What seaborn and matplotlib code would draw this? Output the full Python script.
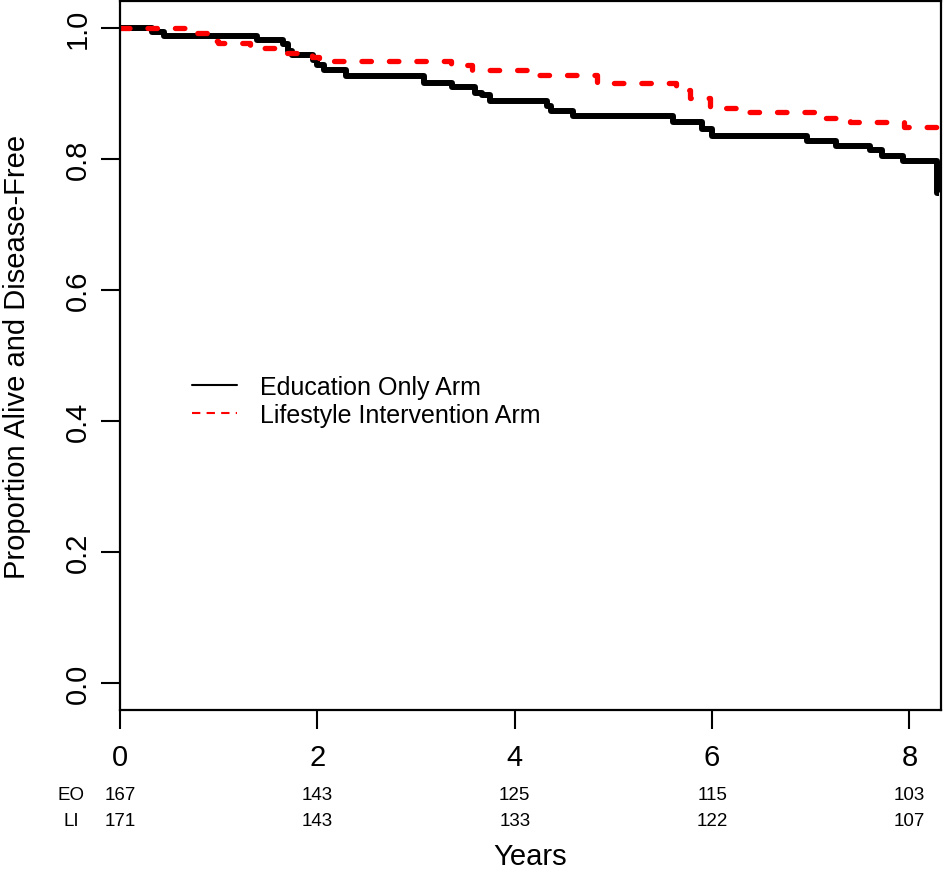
import numpy as np
import pandas as pd
import matplotlib
matplotlib.use("Agg")
import matplotlib.pyplot as plt
import matplotlib.transforms as mtransforms
from matplotlib.lines import Line2D
import seaborn as sns

# step times (years) and survival after each step
eo_time = [0.0, 0.32, 0.45, 1.39, 1.65, 1.70, 1.74, 1.96, 2.00, 2.07, 2.29, 3.08, 3.36,
           3.60, 3.67, 3.75, 4.33, 4.37, 4.59, 5.60, 5.90, 6.00, 6.96, 7.26, 7.60,
           7.72, 7.93, 8.28, 8.30]
eo_surv = [1.000, 0.994, 0.988, 0.982, 0.976, 0.965, 0.959, 0.951, 0.944, 0.936, 0.927,
           0.916, 0.909, 0.901, 0.897, 0.889, 0.880, 0.873, 0.866, 0.857, 0.845, 0.835,
           0.828, 0.820, 0.813, 0.805, 0.797, 0.748, 0.748]

li_time = [0.0, 0.68, 0.90, 0.99, 1.32, 1.60, 1.95, 2.02, 3.35, 3.57, 4.15, 4.83,
           5.63, 5.78, 5.98, 6.28, 7.11, 7.40, 7.95, 8.35]
li_surv = [1.000, 0.992, 0.980, 0.977, 0.969, 0.962, 0.956, 0.950, 0.944, 0.936, 0.928,
           0.916, 0.905, 0.893, 0.878, 0.871, 0.863, 0.856, 0.849, 0.849]

risk_times = [0, 2, 4, 6, 8]
risk_eo = [167, 143, 125, 115, 103]
risk_li = [171, 143, 133, 122, 107]

sns.set_style("white")
plt.rcParams['font.family'] = ['Liberation Sans', 'DejaVu Sans']
plt.rcParams['text.color'] = 'black'
plt.rcParams['axes.labelcolor'] = 'black'
plt.rcParams['xtick.color'] = 'black'
plt.rcParams['ytick.color'] = 'black'

fig = plt.figure(figsize=(9.44, 8.70), dpi=100)
ax = fig.add_axes([120 / 944, 1 - 711 / 870, 821 / 944, 709 / 870])

eo = pd.DataFrame({"time": eo_time, "surv": eo_surv})
li = pd.DataFrame({"time": li_time, "surv": li_surv})

sns.lineplot(data=eo, x="time", y="surv", ax=ax, color="black", lw=4.3,
             drawstyle="steps-post", estimator=None, solid_capstyle="butt")
sns.lineplot(data=li, x="time", y="surv", ax=ax, color="red", lw=3.8,
             drawstyle="steps-post", estimator=None,
             linestyle=(0, (1.8, 3.4)), dash_capstyle="round")

ax.set_xlim(0, 8.32)
ax.set_ylim(-0.041, 1.041)
ax.set_xticks([0, 2, 4, 6, 8])
ax.set_yticks([0.0, 0.2, 0.4, 0.6, 0.8, 1.0])
ax.set_yticklabels(["0.0", "0.2", "0.4", "0.6", "0.8", "1.0"], rotation=90, va="center")
ax.tick_params(axis="x", bottom=True, length=14, width=1.5, labelsize=21, pad=10,
               colors="black")
ax.tick_params(axis="y", left=True, length=14, width=1.5, labelsize=21, pad=6,
               colors="black")
ax.set_xlabel("")
ax.set_ylabel("Proportion Alive and Disease-Free", fontsize=21, labelpad=24)
for sp in ax.spines.values():
    sp.set_color("black")
    sp.set_linewidth(1.6)

handles = [Line2D([], [], color="black", lw=1.5),
           Line2D([], [], color="red", lw=1.5, linestyle=(0, (4, 3)))]
ax.legend(handles, ["Education Only Arm", "Lifestyle Intervention Arm"],
          loc="center left", bbox_to_anchor=(192 / 944, 1 - 402 / 870),
          bbox_transform=fig.transFigure, frameon=False, fontsize=18,
          handlelength=1.8, handletextpad=0.9, labelspacing=0.15, borderpad=0,
          borderaxespad=0)

# numbers at risk
trans = mtransforms.blended_transform_factory(ax.transData, fig.transFigure)
fig.text(71 / 944, 1 - 795 / 870, "EO", ha="center", va="center", fontsize=13.5)
fig.text(71 / 944, 1 - 822 / 870, "LI", ha="center", va="center", fontsize=13.5)
for t, a, b in zip(risk_times, risk_eo, risk_li):
    ax.text(t, 1 - 795 / 870, str(a), transform=trans, ha="center", va="center",
            fontsize=13.5, clip_on=False)
    ax.text(t, 1 - 822 / 870, str(b), transform=trans, ha="center", va="center",
            fontsize=13.5, clip_on=False)

fig.text(530 / 944, 1 - 857 / 870, "Years", ha="center", va="center", fontsize=21)

fig.savefig("out.png", dpi=100)
